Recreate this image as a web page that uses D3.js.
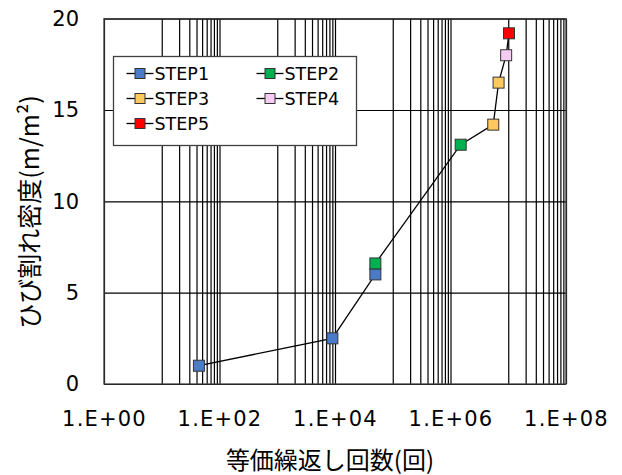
<!DOCTYPE html>
<html>
<head>
<meta charset="utf-8">
<script src="https://cdn.jsdelivr.net/npm/d3@7"></script>
<style>
  body { margin: 0; background: #fff; }
  text { font-family: "DejaVu Sans", Verdana, sans-serif; fill: #000; }
</style>
</head>
<body>
<div id="chart-area"></div>
<script>
// data
var stepNames = ["STEP1", "STEP2", "STEP3", "STEP4", "STEP5"]
var stepColors = ["#4a7bc8", "#00b050", "#ffc95e", "#f6ccf4", "#ff0000"]
var step1N = [44, 9000, 50000]
var step1Y = [1.0, 2.5, 6.0]
var step2N = [50000, 1.5e6]
var step2Y = [6.6, 13.1]
var step3N = [5.5e6, 6.8e6]
var step3Y = [14.2, 16.5]
var step4N = [9.2e6]
var step4Y = [18.0]
var step5N = [1.03e7]
var step5Y = [19.2]

var xTicks = [1, 1e2, 1e4, 1e6, 1e8]
var xTickLabels = ["1.E+00", "1.E+02", "1.E+04", "1.E+06", "1.E+08"]
var yTicks = [0, 5, 10, 15, 20]

var seriesN = [step1N, step2N, step3N, step4N, step5N]
var seriesY = [step1Y, step2Y, step3Y, step4Y, step5Y]

var series = stepNames.map(function(name, i){
    return {
        name: name,
        color: stepColors[i],
        points: seriesN[i].map(function(n, j){ return {n: n, y: seriesY[i][j]} })
    }
})
var allPoints = []
series.forEach(function(s){ allPoints = allPoints.concat(s.points) })

var width = 622
var height = 475
var margin = {top: 18.7, right: 56, bottom: 91, left: 104}
var innerW = width - margin.left - margin.right
var innerH = height - margin.top - margin.bottom

var x = d3.scaleLog()
    .domain([1, 1e8])
    .range([0, innerW])

var y = d3.scaleLinear()
    .domain([0, 20])
    .range([innerH, 0])

var svg = d3.select("#chart-area")
    .append("svg")
    .attr("width", width)
    .attr("height", height)

var g = svg.append("g")
    .attr("transform", "translate(" + margin.left + "," + margin.top + ")")

// grid: every decade, plus 2..9 in the odd decades (major unit is 100)
var gridTicks = []
for (var k = 0; k < 8; k++) {
    gridTicks.push(Math.pow(10, k))
    if (k % 2 == 1) {
        for (var m = 2; m < 10; m++) gridTicks.push(m * Math.pow(10, k))
    }
}
gridTicks.push(1e8)

g.append("g")
    .attr("class", "x grid")
    .call(d3.axisBottom(x).tickValues(gridTicks).tickSize(innerH).tickFormat(""))
    .call(function(s){
        s.select(".domain").remove()
        s.selectAll("line").attr("stroke", "#000").attr("stroke-width", 1.2)
    })

g.append("g")
    .attr("class", "y grid")
    .call(d3.axisLeft(y).tickValues(yTicks).tickSize(-innerW).tickFormat(""))
    .call(function(s){
        s.select(".domain").remove()
        s.selectAll("line").attr("stroke", "#000").attr("stroke-width", 1.2)
    })

g.append("rect")
    .attr("width", innerW)
    .attr("height", innerH)
    .attr("fill", "none")
    .attr("stroke", "#404040")
    .attr("stroke-width", 1.3)

// tick labels
var xAxis = g.append("g")
    .attr("transform", "translate(0," + innerH + ")")
    .call(d3.axisBottom(x).tickValues(xTicks).tickSize(0).tickPadding(27)
        .tickFormat(function(d, i){ return xTickLabels[i] }))
xAxis.select(".domain").remove()
xAxis.selectAll("text")
    .attr("font-size", 21)
    .attr("letter-spacing", 1.2)
    .style("font-family", "'DejaVu Sans', sans-serif")

var yAxis = g.append("g")
    .call(d3.axisLeft(y).tickValues(yTicks).tickSize(0).tickPadding(25))
yAxis.select(".domain").remove()
yAxis.selectAll("text")
    .attr("font-size", 21)
    .style("font-family", "'DejaVu Sans', sans-serif")

// connecting line
var line = d3.line()
    .x(function(d){ return x(d.n) })
    .y(function(d){ return y(d.y) })

g.append("path")
    .datum(allPoints)
    .attr("d", line)
    .attr("fill", "none")
    .attr("stroke", "#000")
    .attr("stroke-width", 1.3)

var ms = 11
series.forEach(function(s){
    g.selectAll(null)
        .data(s.points)
        .enter().append("rect")
        .attr("x", function(d){ return x(d.n) - ms / 2 })
        .attr("y", function(d){ return y(d.y) - ms / 2 })
        .attr("width", ms)
        .attr("height", ms)
        .attr("fill", s.color)
        .attr("stroke", "#333")
        .attr("stroke-width", 1)
})

// legend
var legend = svg.append("g").attr("transform", "translate(113.5,56.5)")
legend.append("rect")
    .attr("width", 243)
    .attr("height", 89)
    .attr("fill", "#fff")
    .attr("stroke", "#404040")
    .attr("stroke-width", 1.3)

var items = legend.selectAll("g.item")
    .data(series)
    .enter().append("g")
    .attr("class", "item")
    .attr("transform", function(d, i){
        return "translate(" + (13 + (i % 2) * 130) + "," + (17 + Math.floor(i / 2) * 25) + ")"
    })
items.append("line")
    .attr("x1", 0).attr("x2", 27)
    .attr("stroke", "#000").attr("stroke-width", 1.3)
items.append("rect")
    .attr("x", 13.5 - 5).attr("y", -5)
    .attr("width", 10).attr("height", 10)
    .attr("fill", function(d){ return d.color })
    .attr("stroke", "#333")
items.append("text")
    .attr("x", 28)
    .attr("dy", "0.36em")
    .attr("font-size", 17.5)
    .text(function(d){ return d.name })

// axis titles
svg.append("text")
    .attr("x", margin.left + innerW / 2 - 5)
    .attr("y", 469)
    .attr("text-anchor", "middle")
    .attr("font-size", 24)
    .style("font-family", "'Noto Sans CJK JP', sans-serif")
    .text("等価繰返し回数(回)")

svg.append("text")
    .attr("transform", "translate(39,212) rotate(-90)")
    .attr("text-anchor", "middle")
    .attr("font-size", 25)
    .style("font-family", "'Noto Sans CJK JP', sans-serif")
    .text("ひび割れ密度(m/m²)")
</script>
</body>
</html>
